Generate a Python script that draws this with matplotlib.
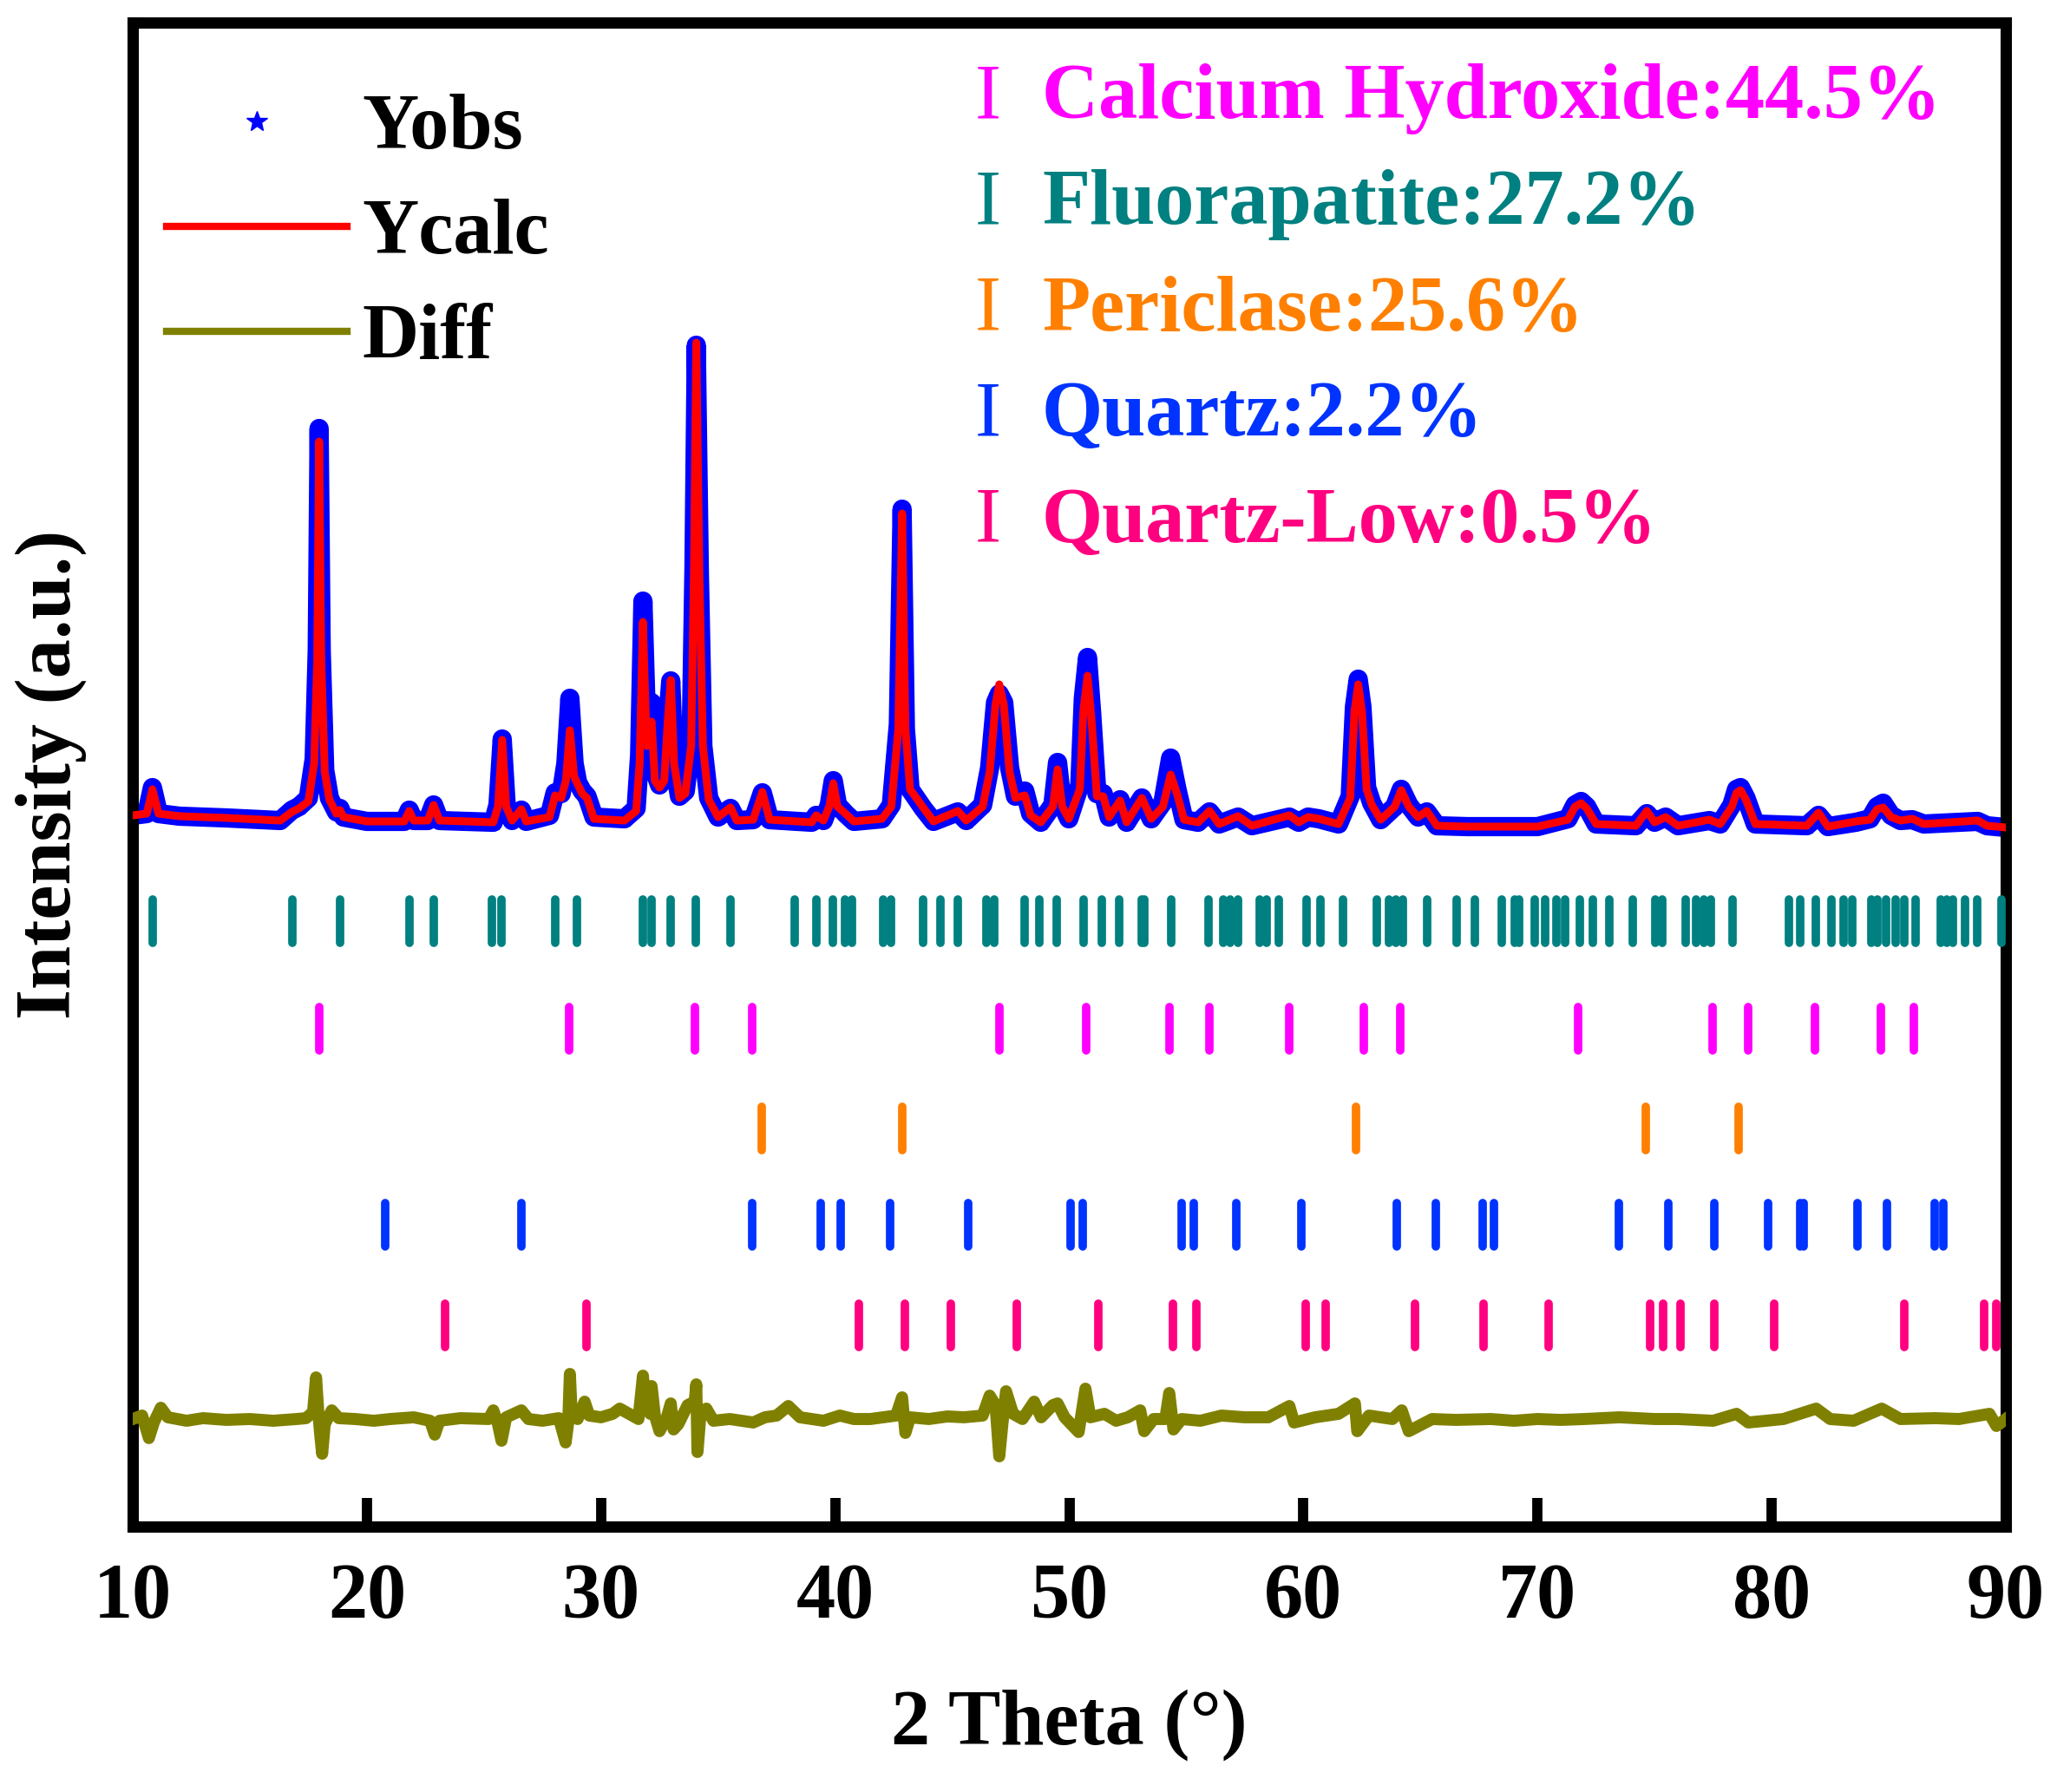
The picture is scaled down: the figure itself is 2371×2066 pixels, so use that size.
import matplotlib
matplotlib.use("Agg")
import matplotlib.pyplot as plt
from matplotlib.lines import Line2D

plt.rcParams['font.family'] = ['Liberation Serif', 'DejaVu Serif']
plt.rcParams['font.weight'] = 'bold'

# ---------------- data ----------------
two_theta = [10.0, 10.6, 10.84, 11.1, 12.0, 14.0, 16.3, 16.8, 17.1, 17.5,
             17.75, 17.88, 17.96, 18.05, 18.2, 18.4, 18.7, 18.85, 19.0, 20.0,
             21.6, 21.81, 22.0, 22.6, 22.85, 23.1, 25.4, 25.6, 25.78, 25.95,
             26.2, 26.6, 26.8, 27.8, 28.04, 28.3, 28.5, 28.67, 28.85, 29.0,
             29.2, 29.4, 29.7, 31.0, 31.5, 31.65, 31.79, 31.95, 32.16, 32.3,
             32.5, 32.7, 32.85, 32.98, 33.12, 33.35, 33.6, 33.85, 33.97, 34.07,
             34.2, 34.35, 34.6, 35.0, 35.53, 35.8, 36.5, 36.89, 37.2, 39.0,
             39.19, 39.5, 39.75, 39.92, 40.1, 40.44, 40.8, 42.0, 42.4, 42.7,
             42.86, 43.0, 43.2, 43.76, 44.2, 45.24, 45.6, 46.3, 46.6, 46.85,
             47.01, 47.2, 47.45, 47.7, 48.1, 48.35, 48.78, 49.3, 49.5, 49.7,
             49.98, 50.45, 50.6, 50.78, 50.95, 51.18, 51.45, 51.7, 52.17, 52.45,
             53.1, 53.5, 54.0, 54.33, 54.6, 54.9, 55.5, 55.99, 56.4, 57.21,
             57.8, 59.4, 59.8, 60.2, 60.66, 61.5, 62.0, 62.18, 62.34, 62.5,
             62.7, 62.92, 63.3, 63.9, 64.18, 64.5, 64.9, 65.27, 65.7, 67.0,
             70.0, 71.3, 71.6, 71.86, 72.1, 72.5, 74.2, 74.67, 75.0, 75.47,
             76.0, 77.34, 77.8, 78.3, 78.5, 78.67, 78.9, 79.3, 81.5, 82.0,
             82.4, 83.6, 84.2, 84.5, 84.76, 85.1, 85.5, 86.0, 86.5, 88.8,
             89.2, 90.0]

y_calc = [820, 822, 850, 822, 819, 817, 814, 824, 828, 836,
          880, 1000, 1251, 1000, 870, 838, 822, 826, 818, 813,
          813, 825, 814, 814, 832, 814, 812, 830, 907, 830,
          814, 827, 813, 818, 843, 840, 860, 918, 865, 856,
          845, 840, 816, 814, 825, 880, 1043, 900, 928, 860,
          852, 860, 928, 976, 880, 840, 845, 900, 1100, 1365,
          1100, 900, 838, 818, 829, 814, 815, 847, 815, 812,
          820, 814, 830, 857, 830, 822, 813, 816, 830, 920,
          1168, 920, 850, 829, 813, 825, 814, 830, 870, 948,
          971, 948, 870, 840, 843, 820, 812, 830, 873, 830,
          816, 850, 940, 981, 930, 842, 842, 818, 837, 812,
          840, 816, 830, 867, 845, 815, 812, 825, 810, 819,
          808, 820, 812, 818, 816, 810, 840, 940, 971, 940,
          850, 832, 815, 830, 849, 830, 818, 825, 808, 807,
          807, 815, 830, 834, 828, 810, 808, 825, 812, 818,
          808, 815, 810, 830, 846, 849, 838, 810, 808, 823,
          807, 813, 815, 827, 829, 818, 814, 816, 810, 814,
          808, 806]

y_obs = [820, 822, 852, 822, 819, 817, 814, 826, 830, 840,
         885, 1010, 1266, 1010, 872, 840, 824, 828, 818, 813,
         813, 826, 814, 814, 832, 814, 812, 832, 908, 832,
         814, 826, 813, 820, 846, 845, 880, 955, 880, 858,
         848, 842, 818, 816, 828, 890, 1067, 920, 950, 870,
         855, 862, 930, 975, 880, 842, 848, 905, 1105, 1362,
         1100, 900, 840, 818, 828, 814, 815, 846, 815, 812,
         820, 814, 832, 860, 832, 822, 813, 816, 832, 925,
         1173, 920, 850, 828, 813, 824, 814, 832, 875, 950,
         960, 950, 875, 842, 848, 822, 812, 832, 881, 832,
         816, 855, 955, 1002, 940, 845, 845, 818, 838, 812,
         840, 816, 835, 886, 850, 815, 812, 824, 810, 818,
         808, 818, 812, 818, 816, 810, 842, 945, 977, 945,
         852, 834, 815, 830, 850, 832, 818, 824, 808, 807,
         807, 816, 832, 836, 830, 810, 808, 822, 812, 818,
         808, 814, 810, 832, 850, 852, 840, 810, 808, 820,
         807, 812, 816, 830, 834, 820, 814, 815, 810, 813,
         808, 806]

diff_theta = [10.0, 10.4, 10.69, 10.9, 11.2, 11.5, 12.3, 13.0, 14.0, 15.0,
              16.0, 17.0, 17.4, 17.7, 17.83, 17.93, 18.0, 18.09, 18.2, 18.5,
              18.8, 19.5, 20.3, 21.0, 22.0, 22.7, 22.9, 23.1, 24.0, 25.2,
              25.4, 25.6, 25.75, 25.95, 26.6, 26.9, 27.5, 28.2, 28.49, 28.6,
              28.67, 28.75, 29.0, 29.3, 29.5, 30.0, 30.5, 30.8, 31.2, 31.6,
              31.79, 31.9, 32.1, 32.16, 32.3, 32.5, 32.8, 32.98, 33.1, 33.3,
              33.7, 34.0, 34.07, 34.12, 34.25, 34.5, 34.8, 35.5, 36.5, 37.0,
              37.5, 38.0, 38.5, 39.5, 40.2, 40.8, 41.5, 42.6, 42.86, 43.0,
              43.2, 44.0, 44.8, 45.5, 46.3, 46.6, 46.85, 47.01, 47.15, 47.3,
              47.6, 48.0, 48.5, 48.8, 49.3, 49.5, 49.8, 50.4, 50.69, 50.9,
              51.5, 52.0, 52.5, 53.03, 53.2, 53.6, 54.1, 54.27, 54.45, 54.8,
              55.6, 56.5, 57.5, 58.5, 59.4, 59.6, 60.5, 61.5, 62.2, 62.3,
              62.8, 63.8, 64.2, 64.5, 65.5, 66.5, 68.0, 69.0, 70.0, 71.0,
              72.0, 73.5, 75.0, 76.0, 77.5, 78.5, 79.0, 80.5, 81.9, 82.5,
              83.5, 84.7, 85.5, 87.0, 88.0, 89.3, 89.6, 90.0]

diff_y = [124, 128, 102, 120, 137, 126, 122, 125, 123, 124,
          122, 124, 125, 132, 172, 130, 108, 84, 118, 134,
          125, 124, 122, 124, 126, 122, 106, 122, 125, 124,
          134, 118, 99, 126, 134, 124, 122, 125, 97, 120,
          176, 130, 124, 144, 128, 126, 130, 136, 130, 124,
          174, 140, 130, 162, 128, 110, 125, 142, 112, 118,
          140, 144, 164, 86, 130, 136, 122, 124, 120, 126,
          128, 139, 126, 122, 128, 124, 124, 128, 149, 108,
          126, 124, 127, 126, 128, 151, 140, 81, 120, 156,
          130, 124, 144, 126, 140, 142, 126, 109, 159, 126,
          130, 122, 126, 134, 110, 124, 124, 154, 112, 124,
          122, 128, 126, 126, 139, 120, 126, 130, 142, 110,
          128, 124, 134, 110, 124, 123, 124, 122, 124, 123,
          124, 126, 124, 124, 122, 130, 120, 124, 136, 124,
          122, 136, 124, 125, 124, 130, 116, 124]

phase_names = ["Calcium Hydroxide", "Fluorapatite", "Periclase", "Quartz", "Quartz-Low"]
phase_percent = ["44.5%", "27.2%", "25.6%", "2.2%", "0.5%"]
phase_colors = ["#FF00FF", "#008080", "#FF8000", "#0033FF", "#FF0080"]

fluorapatite_pos = [10.84, 16.82, 18.84, 21.81, 22.85, 25.34, 25.76, 28.04, 28.98, 31.79,
                    32.15, 32.98, 34.04, 35.53, 38.26, 39.19, 39.92, 40.44, 40.70, 42.07,
                    42.39, 43.76, 44.49, 45.24, 46.46, 46.78, 48.10, 48.73, 49.46, 50.60,
                    51.40, 52.13, 53.09, 53.20, 54.34, 55.95, 56.57, 56.89, 57.20, 58.13,
                    58.44, 58.96, 60.13, 60.73, 61.69, 63.15, 63.64, 63.95, 64.26, 65.30,
                    66.55, 67.33, 68.47, 69.04, 69.23, 69.88, 70.34, 70.81, 71.18, 71.80,
                    72.37, 73.07, 74.06, 75.02, 75.33, 76.32, 76.79, 77.10, 77.41, 78.32,
                    80.74, 81.23, 81.90, 82.56, 83.07, 83.44, 84.24, 84.50, 84.89, 85.28,
                    85.67, 86.14, 87.23, 87.49, 87.75, 88.27, 88.79, 89.80]
calcium_hydroxide_pos = [17.96, 28.64, 34.02, 36.44, 47.01, 50.73, 54.29, 56.0, 59.38, 62.58,
                         64.14, 71.72, 77.49, 79.0, 81.85, 84.66, 86.09]
periclase_pos = [36.88, 42.85, 62.26, 74.63, 78.58]
quartz_pos = [20.80, 26.59, 36.46, 39.39, 40.22, 42.33, 45.68, 50.05, 50.57, 54.81,
              55.30, 57.12, 59.90, 64.0, 65.67, 67.67, 68.14, 73.49, 75.57, 77.54,
              79.85, 81.20, 81.36, 83.67, 84.92, 86.97, 87.34]
quartz_low_pos = [23.34, 29.37, 41.01, 42.96, 44.96, 47.74, 51.25, 54.42, 55.43, 60.11,
                  60.94, 64.78, 67.69, 70.47, 74.81, 75.36, 76.11, 77.54, 80.11, 85.67,
                  89.08, 89.6]

# row levels of the reflection markers (same units as intensity)
tick_rows = [(fluorapatite_pos, 698, "#008080"),
             (calcium_hydroxide_pos, 574, "#FF00FF"),
             (periclase_pos, 459, "#FF8000"),
             (quartz_pos, 348, "#0033FF"),
             (quartz_low_pos, 232, "#FF0080")]

x_ticks = [10, 20, 30, 40, 50, 60, 70, 80, 90]

# ---------------- figure ----------------
W, H = 2371, 2066
fig = plt.figure(figsize=(W / 100, H / 100), dpi=100)
ax = fig.add_axes([153 / W, (H - 1760) / H, 2159 / W, 1734 / H])

FS = 65

# observed: thick band of star markers
ax.plot(two_theta, y_obs, color="#0000FF", lw=16, solid_joinstyle="round",
        solid_capstyle="butt", zorder=2)
ax.plot(two_theta, y_obs, ls="none", marker="*", ms=14, color="#0000FF", zorder=2)
# calculated
ax.plot(two_theta, y_calc, color="#FF0000", lw=6.5, solid_joinstyle="round", zorder=3)
# difference
ax.plot(diff_theta, diff_y, color="#808000", lw=10, solid_joinstyle="round", zorder=3)

# reflection markers
for pos, level, col in tick_rows:
    ax.vlines(pos, level - 25, level + 25, colors=col, lw=7, capstyle="round", zorder=3)

ax.set_xlim(10, 90)
ax.set_ylim(0, 1734)
ax.set_xticks(x_ticks)
ax.set_xticklabels([str(t) for t in x_ticks])
ax.set_yticks([])
ax.tick_params(axis="x", direction="in", length=24, width=8.5, pad=30,
               labelsize=FS, top=False)
for lab in ax.get_xticklabels():
    lab.set_fontweight("bold")
for sp in ax.spines.values():
    sp.set_linewidth(9.4)

ax.set_xlabel("2 Theta (°)", fontsize=FS, fontweight="bold")
ax.xaxis.set_label_coords(0.5, -0.108)
ax.set_ylabel("Intensity (a.u.)", fontsize=FS, fontweight="bold")
ax.yaxis.set_label_coords(-0.0245, 0.5)

# left legend
handles = [Line2D([], [], ls="none", marker="*", ms=18, color="#0000FF"),
           Line2D([], [], color="#FF0000", lw=6),
           Line2D([], [], color="#808000", lw=6)]
leg = ax.legend(handles, ["Yobs", "Ycalc", "Diff"], loc="upper left",
                bbox_to_anchor=(192 / W, 1 - 108 / H), bbox_transform=fig.transFigure,
                frameon=False, prop={"family": "Liberation Serif", "weight": "bold", "size": FS},
                handlelength=2.3, handletextpad=0.2, labelspacing=0.43,
                borderpad=0, borderaxespad=0)

# right phase legend
baselines = [136, 258, 381, 502, 625]
for name, pct, col, b in zip(phase_names, phase_percent, phase_colors, baselines):
    yax = (1760 - b) / 1734
    ax.text((1124 - 153) / 2159, yax, "I", color=col, fontsize=FS, fontweight="normal",
            transform=ax.transAxes, ha="left", va="baseline")
    ax.text((1201 - 153) / 2159, yax, f"{name}:{pct}", color=col, fontsize=FS,
            fontweight="bold", transform=ax.transAxes, ha="left", va="baseline")

fig.savefig("out.png", dpi=100)
